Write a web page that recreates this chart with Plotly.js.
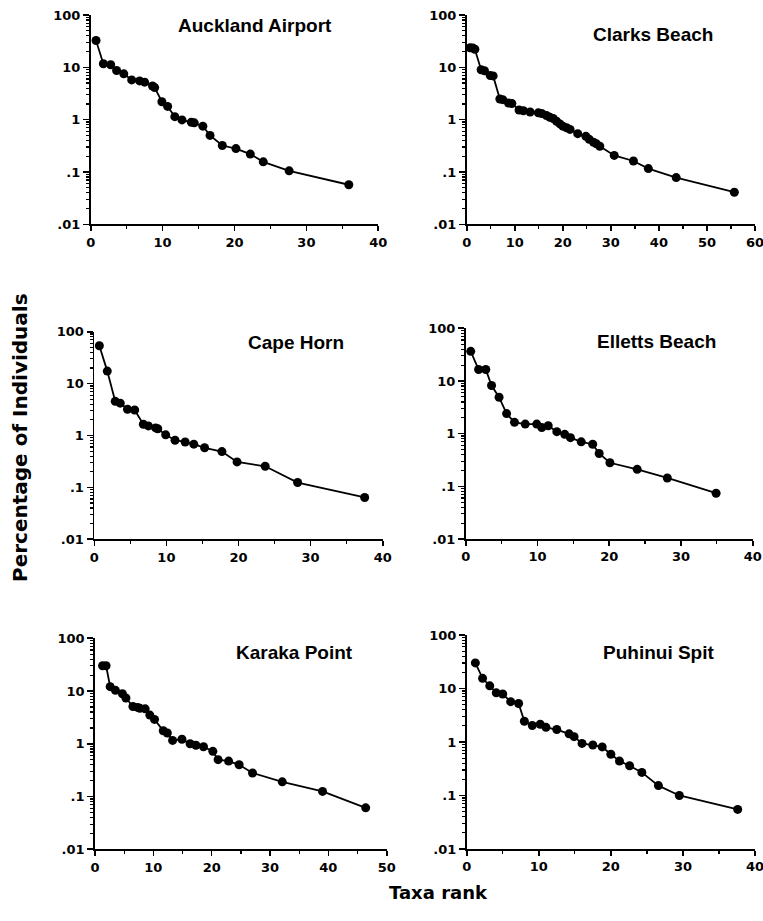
<!DOCTYPE html>
<html>
<head>
<meta charset="utf-8">
<script src="https://cdn.plot.ly/plotly-3.0.1.min.js"></script>
<style>html,body{margin:0;padding:0;background:#fff;}#chart{width:763px;height:921px;}</style>
</head>
<body>
<div id="chart"></div>
<script>
// ---- Data ----
const siteNames = ["Auckland Airport", "Clarks Beach", "Cape Horn", "Elletts Beach", "Karaka Point", "Puhinui Spit"];
const xMax = [40, 60, 40, 40, 50, 40];

const aucklandRank = [0.74, 1.76, 2.78, 3.6, 4.6, 5.7, 6.8, 7.5, 8.6, 8.9, 9.9, 10.7, 11.7, 12.7, 14.0, 14.4, 15.6, 16.6, 18.3, 20.2, 22.2, 24.0, 27.6, 35.9];
const aucklandPct  = [32.6, 11.7, 11.2, 8.7, 7.5, 5.75, 5.5, 5.2, 4.4, 4.1, 2.2, 1.79, 1.14, 0.99, 0.89, 0.87, 0.75, 0.50, 0.32, 0.28, 0.22, 0.156, 0.105, 0.057];

const clarksRank = [0.7, 1.3, 1.7, 3.0, 3.7, 4.9, 5.5, 6.9, 7.5, 8.7, 9.4, 10.9, 11.8, 13.2, 14.9, 15.6, 16.6, 17.3, 18.0, 18.7, 19.4, 20.0, 20.8, 21.5, 23.1, 24.8, 25.5, 26.4, 27.0, 27.7, 30.7, 34.7, 37.8, 43.6, 55.7];
const clarksPct  = [23.7, 23.3, 22.1, 9.0, 8.6, 6.95, 6.85, 2.48, 2.41, 2.07, 2.04, 1.53, 1.48, 1.40, 1.35, 1.31, 1.2, 1.11, 1.05, 0.93, 0.83, 0.75, 0.70, 0.65, 0.54, 0.48, 0.42, 0.37, 0.345, 0.31, 0.207, 0.162, 0.116, 0.078, 0.041];

const capeRank = [0.7, 1.8, 2.9, 3.6, 4.6, 5.6, 6.8, 7.5, 8.5, 8.8, 9.9, 11.2, 12.6, 13.8, 15.3, 17.7, 19.8, 23.7, 28.2, 37.5];
const capePct  = [53.5, 17.4, 4.55, 4.2, 3.2, 3.1, 1.65, 1.53, 1.40, 1.35, 1.03, 0.81, 0.75, 0.68, 0.58, 0.49, 0.31, 0.255, 0.124, 0.064];

const ellettsRank = [0.7, 1.8, 2.8, 3.6, 4.65, 5.7, 6.8, 8.3, 9.9, 10.6, 11.5, 12.7, 13.8, 14.6, 16.1, 17.7, 18.6, 20.1, 23.9, 28.1, 34.9];
const ellettsPct  = [36.5, 16.5, 16.5, 8.2, 4.9, 2.4, 1.64, 1.52, 1.52, 1.31, 1.41, 1.09, 0.97, 0.84, 0.70, 0.63, 0.42, 0.28, 0.21, 0.144, 0.074];

const karakaRank = [1.3, 1.9, 2.6, 3.5, 4.7, 5.3, 6.5, 7.3, 7.7, 8.6, 9.4, 10.2, 11.7, 12.4, 13.3, 14.9, 16.3, 17.3, 18.6, 20.2, 21.1, 22.9, 24.7, 27.0, 32.1, 39.0, 46.4];
const karakaPct  = [30.2, 30.2, 12.1, 10.3, 8.9, 7.4, 5.1, 4.9, 4.7, 4.6, 3.5, 2.9, 1.77, 1.6, 1.16, 1.22, 1.0, 0.94, 0.88, 0.72, 0.50, 0.47, 0.40, 0.28, 0.19, 0.125, 0.061];

const puhinuiRank = [1.2, 2.2, 3.2, 4.1, 5.0, 6.1, 7.2, 8.0, 9.1, 10.2, 11.0, 12.5, 14.2, 14.9, 16.0, 17.5, 18.8, 20.0, 21.2, 22.6, 24.3, 26.6, 29.5, 37.6];
const puhinuiPct  = [30.1, 15.5, 11.2, 8.3, 7.9, 5.67, 5.25, 2.44, 2.03, 2.15, 1.88, 1.71, 1.42, 1.26, 0.94, 0.88, 0.81, 0.59, 0.44, 0.36, 0.27, 0.153, 0.1, 0.055];

const yTickVals = [0.01, 0.1, 1, 10, 100];
const yTickText = [".01", ".1", "1", "10", "100"];

// ---- Layout geometry (pixels in 763x921) ----
const W = 763, H = 921;
const boxes = [
  {x0: 90.7, x1: 378.3, top: 15,    bottom: 224.3},
  {x0: 466.7, x1: 755,  top: 15,    bottom: 224.3},
  {x0: 94.3, x1: 382.7, top: 331.7, bottom: 539.3},
  {x0: 465.7, x1: 752.7, top: 328.3, bottom: 539},
  {x0: 95,   x1: 386.7, top: 638.3, bottom: 849.3},
  {x0: 466.7, x1: 755,  top: 635,   bottom: 849}
];
const titlePos = [[255, 25], [653, 34], [296, 343], [656, 342], [294, 652], [658, 652]];

const series = [
  [aucklandRank, aucklandPct],
  [clarksRank, clarksPct],
  [capeRank, capePct],
  [ellettsRank, ellettsPct],
  [karakaRank, karakaPct],
  [puhinuiRank, puhinuiPct]
];

const tickFont = {family: "DejaVu Sans", size: 13, color: "#000", weight: "bold"};
const data = [];
const layout = {
  width: W, height: H,
  margin: {l: 0, r: 0, t: 0, b: 0},
  paper_bgcolor: "#fff", plot_bgcolor: "#fff",
  showlegend: false,
  annotations: []
};

series.forEach((s, i) => {
  const n = i + 1;
  const xa = n === 1 ? "x" : "x" + n;
  const ya = n === 1 ? "y" : "y" + n;
  data.push({
    x: s[0], y: s[1], xaxis: xa, yaxis: ya,
    type: "scatter", mode: "lines+markers",
    line: {color: "#000", width: 1.8},
    marker: {color: "#000", size: 9},
    hoverinfo: "skip", cliponaxis: false
  });
  const b = boxes[i];
  layout["xaxis" + (n === 1 ? "" : n)] = {
    domain: [b.x0 / W, b.x1 / W],
    anchor: ya,
    range: [0, xMax[i]],
    tickmode: "linear", tick0: 0, dtick: 10,
    ticks: "outside", ticklen: 5, tickwidth: 1.6, tickcolor: "#000",
    minor: {tickmode: "linear", tick0: 0, dtick: 5, ticks: "outside", ticklen: 3, tickwidth: 1.3, tickcolor: "#000"},
    showline: true, linecolor: "#000", linewidth: 1.8,
    showgrid: false, zeroline: false,
    ticklabeloverflow: "allow",
    tickfont: tickFont
  };
  layout["yaxis" + (n === 1 ? "" : n)] = {
    domain: [1 - b.bottom / H, 1 - b.top / H],
    anchor: xa,
    type: "log", range: [-2, 2],
    tickmode: "array", tickvals: yTickVals, ticktext: yTickText,
    ticks: "outside", ticklen: 6, tickwidth: 1.6, tickcolor: "#000",
    minor: {tickmode: "linear", dtick: "D1", ticks: "outside", ticklen: 3, tickwidth: 1.2, tickcolor: "#000"},
    showline: true, linecolor: "#000", linewidth: 1.8,
    showgrid: false, zeroline: false,
    ticklabeloverflow: "allow",
    tickfont: tickFont
  };
  layout.annotations.push({
    text: siteNames[i], xref: "paper", yref: "paper",
    x: titlePos[i][0] / W, y: 1 - titlePos[i][1] / H,
    xanchor: "center", yanchor: "middle", showarrow: false,
    font: {family: "Liberation Sans", size: 19, color: "#000", weight: "bold"}
  });
});

layout.annotations.push({
  text: "<b>Percentage of Individuals</b>", xref: "paper", yref: "paper",
  x: 20 / W, y: 1 - 438 / H, xanchor: "center", yanchor: "middle",
  textangle: -90, showarrow: false,
  font: {family: "DejaVu Sans", size: 20, color: "#000"}
});
layout.annotations.push({
  text: "<b>Taxa rank</b>", xref: "paper", yref: "paper",
  x: 438 / W, y: 1 - 892 / H, xanchor: "center", yanchor: "middle",
  showarrow: false,
  font: {family: "DejaVu Sans", size: 18, color: "#000"}
});

Plotly.newPlot("chart", data, layout, {staticPlot: true, displayModeBar: false});
</script>
</body>
</html>
